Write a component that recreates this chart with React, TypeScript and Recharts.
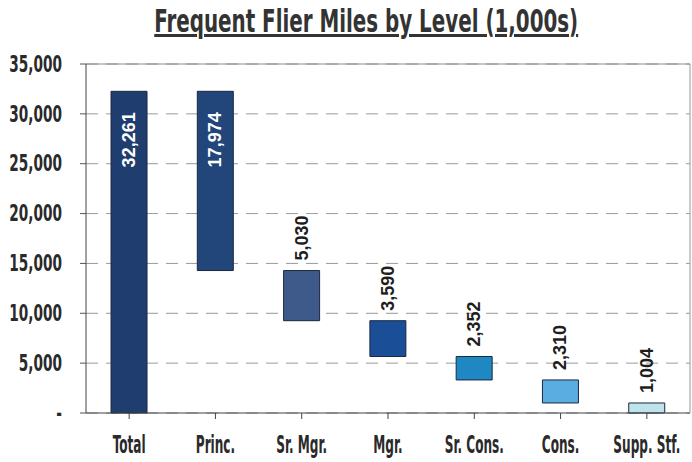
import { BarChart, Bar, XAxis, YAxis, CartesianGrid, Cell, LabelList, ReferenceLine } from 'recharts';

const levels = ['Total', 'Princ.', 'Sr. Mgr.', 'Mgr.', 'Sr. Cons.', 'Cons.', 'Supp. Stf.'];
const miles = [32261, 17974, 5030, 3590, 2352, 2310, 1004];
const barColors = ['#1f3d6e', '#22457a', '#3d5a8a', '#1a4f98', '#1f88c2', '#5aade0', '#bfe3ea'];
const yTicks = [0, 5000, 10000, 15000, 20000, 25000, 30000, 35000];
const yTickLabels = ['-', '5,000', '10,000', '15,000', '20,000', '25,000', '30,000', '35,000'];

// waterfall: each level hangs down from where the previous one ended
const data = levels.map((level, i) => {
  const used = i === 0 ? miles[0] : miles.slice(1, i + 1).reduce((a, b) => a + b, 0);
  const base = i === 0 ? 0 : Math.max(miles[0] - used, 0);
  return { level, base, value: miles[i] };
});

const condensed = '"DejaVu Sans Condensed", "DejaVu Sans", sans-serif';

const XTick = ({ x, y, payload }: any) => (
  <g transform={`translate(${x},${y + 32}) scale(0.56,1)`}>
    <text textAnchor="middle" fontSize={24} fontWeight="bold" fontFamily={condensed} fill="#2a2a2a">
      {payload.value}
    </text>
  </g>
);

const YTick = ({ x, y, payload }: any) => {
  const idx = yTicks.indexOf(payload.value);
  return (
    <g transform={`translate(${x},${y}) scale(0.66,1)`}>
      <text textAnchor="end" dominantBaseline="central" fontSize={23} fontWeight="bold" fontFamily={condensed} fill="#2a2a2a">
        {yTickLabels[idx]}
      </text>
    </g>
  );
};

const renderLabel = (props: any) => {
  const { x, y, width, index, value } = props;
  const cx = x + width / 2;
  const inside = index < 2;
  const ty = inside ? y + 21 : y - 10;
  return (
    <text
      x={cx}
      y={ty}
      transform={`rotate(-90 ${cx} ${ty})`}
      textAnchor={inside ? 'end' : 'start'}
      dominantBaseline="central"
      fill={inside ? '#ffffff' : '#1e1e1e'}
      fontSize={18}
      fontWeight="bold"
      fontFamily='"Liberation Sans", Arial, sans-serif'
    >
      {Number(value).toLocaleString('en-US')}
    </text>
  );
};

export default function App() {
  return (
    <div style={{ position: 'absolute', left: 0, top: 0, width: 692, height: 462, background: '#fff' }}>
      <div style={{ position: 'absolute', left: 40, top: 2, width: 652, textAlign: 'center' }}>
        <span
          style={{
            display: 'inline-block',
            transform: 'scaleX(0.69)',
            fontSize: 32,
            fontWeight: 'bold',
            fontFamily: condensed,
            textDecoration: 'underline',
            color: '#333',
            whiteSpace: 'nowrap',
          }}
        >
          Frequent Flier Miles by Level (1,000s)
        </span>
      </div>
      <BarChart
        width={692}
        height={462}
        data={data}
        margin={{ top: 64, right: 0, bottom: 0, left: 0 }}
        barCategoryGap="29%"
      >
        <CartesianGrid vertical={false} strokeDasharray="12 8" stroke="#9a9a9a" />
        <XAxis
          dataKey="level"
          height={49}
          tick={<XTick />}
          tickLine={{ stroke: '#444' }}
          tickSize={6}
          axisLine={{ stroke: '#444' }}
          interval={0}
        />
        <YAxis
          width={86}
          domain={[0, 35000]}
          ticks={yTicks}
          tick={<YTick />}
          tickLine={{ stroke: '#555' }}
          tickSize={6}
          tickMargin={18}
          axisLine={{ stroke: '#444' }}
          interval={0}
        />
        <YAxis
          yAxisId="r"
          orientation="right"
          width={2}
          domain={[0, 35000]}
          tick={false}
          tickLine={false}
          axisLine={{ stroke: '#999' }}
        />
        <ReferenceLine y={35000} stroke="#888" />
        <Bar dataKey="base" stackId="w" fill="transparent" isAnimationActive={false} />
        <Bar dataKey="value" stackId="w" stroke="#1b2840" strokeWidth={1} isAnimationActive={false}>
          {data.map((d, i) => (
            <Cell key={d.level} fill={barColors[i]} />
          ))}
          <LabelList dataKey="value" content={renderLabel} />
        </Bar>
      </BarChart>
    </div>
  );
}
